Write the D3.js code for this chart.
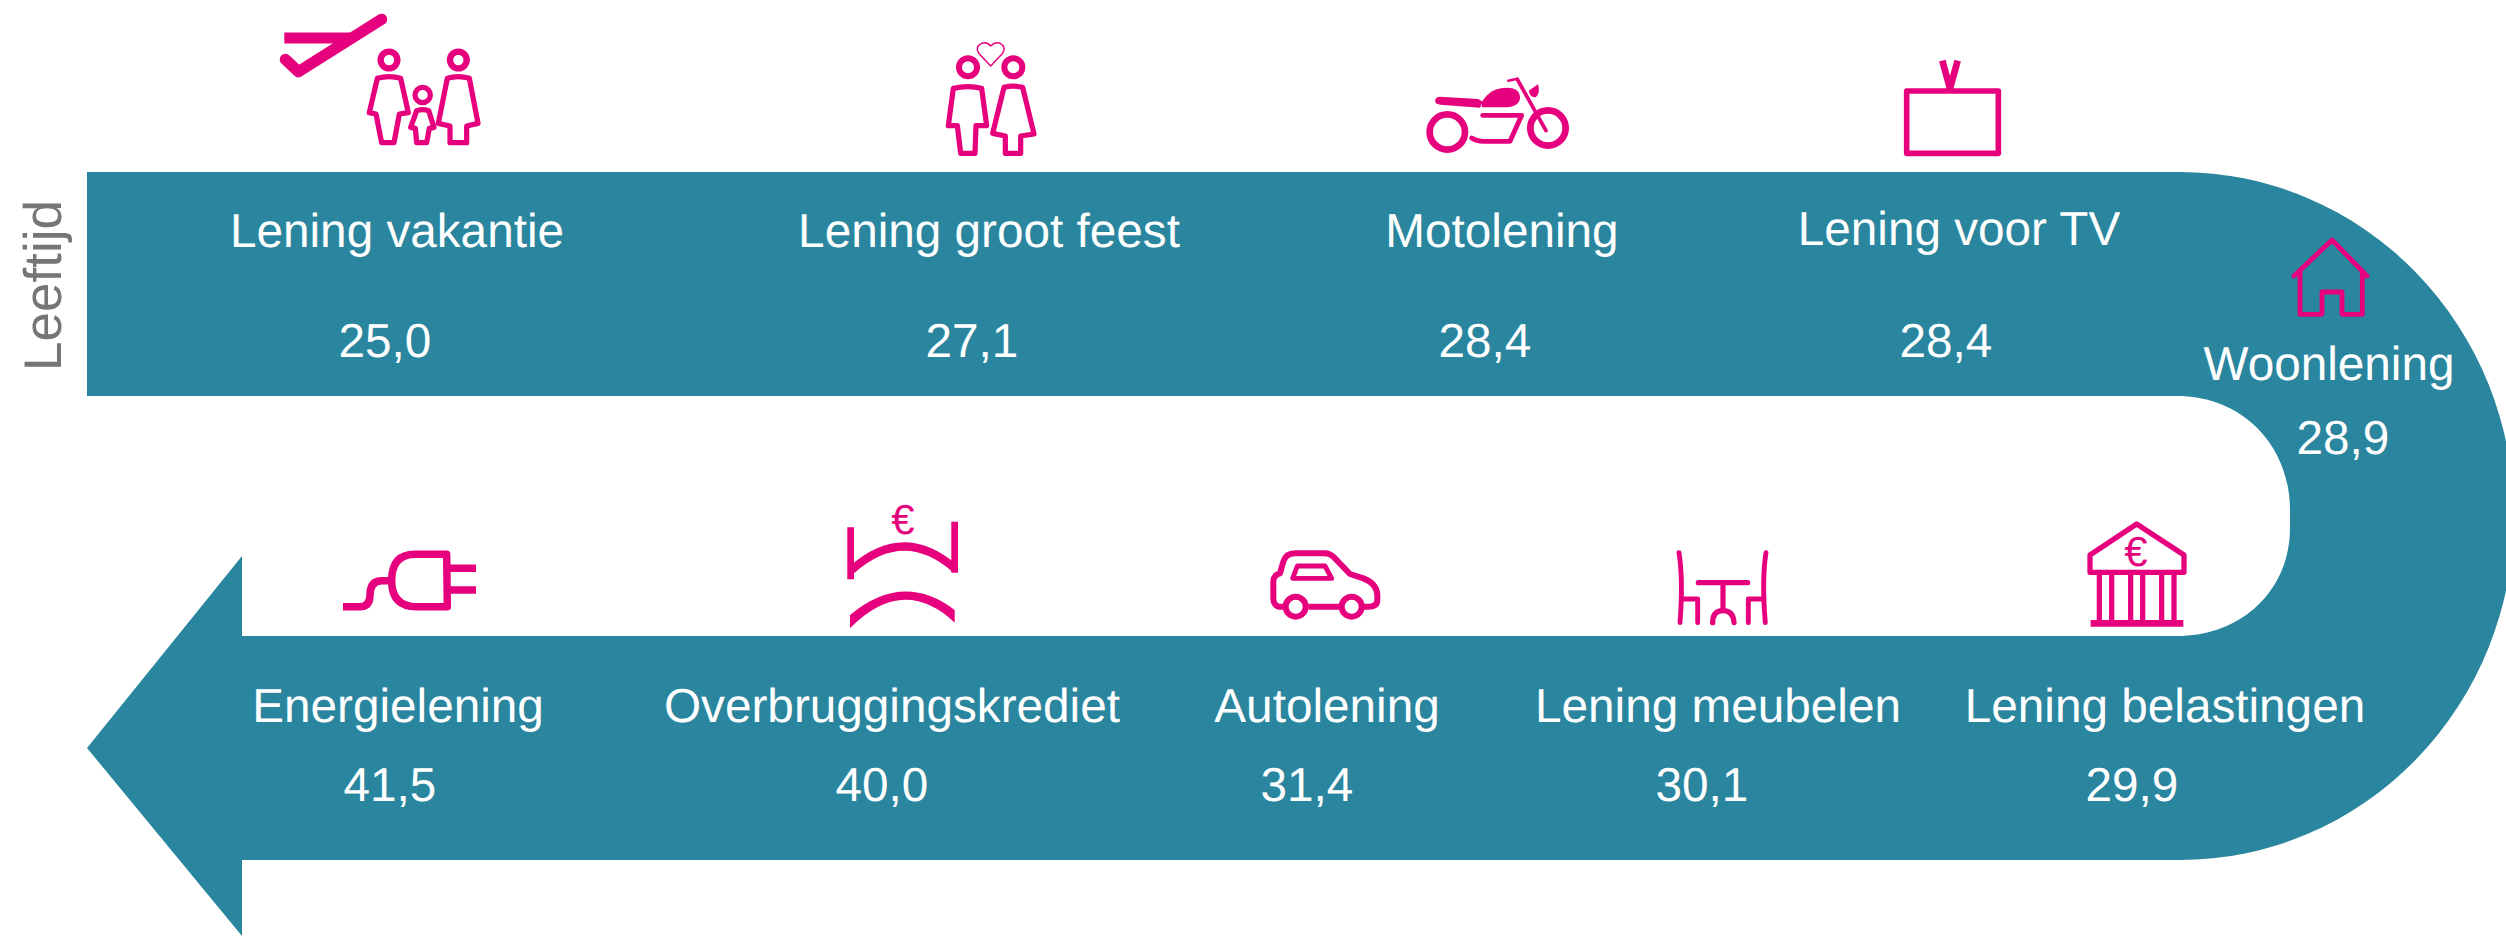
<!DOCTYPE html>
<html>
<head>
<meta charset="utf-8">
<script src="https://cdn.jsdelivr.net/npm/d3@7"></script>
<style>
  html, body { margin: 0; padding: 0; background: #fff; }
  svg { display: block; }
  text { font-family: "Liberation Sans", Arial, sans-serif; text-rendering: geometricPrecision; }
</style>
</head>
<body>
<div id="chart"></div>
<script>
// data, in the order of the ribbon
var loanNames = ["Lening vakantie", "Lening groot feest", "Motolening", "Lening voor TV", "Woonlening",
                 "Lening belastingen", "Lening meubelen", "Autolening", "Overbruggingskrediet", "Energielening"];
var loanAges = [25.0, 27.1, 28.4, 28.4, 28.9, 29.9, 30.1, 31.4, 40.0, 41.5];
var axisLabel = "Leeftijd";

var width = 2506, height = 936;
var teal = "#2a869f", pink = "#e6007e";

// where the labels sit along the ribbon
var nameX = [397, 989, 1502, 1959, 2329, 2165, 1718, 1327, 892, 398];
var valueX = [385, 972, 1485, 1946, 2343, 2132, 1702, 1307, 882, 390];
var nameY = [247, 247, 247, 245, 380, 722, 722, 722, 722, 722];
var valueY = [357, 357, 357, 357, 454, 801, 801, 801, 801, 801];

var nl = d3.formatLocale({decimal: ",", thousands: ".", grouping: [3], currency: ["€", ""]});
var fmt = nl.format(".1f");

var svg = d3.select("#chart").append("svg")
    .attr("width", width)
    .attr("height", height);

// ribbon with the arrow head
svg.append("path")
    .attr("fill", teal)
    .attr("d", "M87 172 L2180 172 A334 344 0 0 1 2180 860 L242 860 L242 936 L87 748 L242 556 L242 636 " +
               "L2177 636 C2242 636 2290 590 2290 528 L2290 510 C2290 445 2242 396 2177 396 L87 396 Z");

svg.append("text")
    .attr("transform", "translate(61,371) rotate(-90)")
    .attr("font-size", 53)
    .attr("fill", "#767676")
    .text(axisLabel);

svg.selectAll("text.name")
    .data(loanNames)
    .enter()
    .append("text")
    .attr("class", "name")
    .attr("x", function(d, i) { return nameX[i]; })
    .attr("y", function(d, i) { return nameY[i]; })
    .attr("text-anchor", "middle")
    .attr("font-size", 47.7)
    .attr("fill", "#fff")
    .text(function(d) { return d; });

svg.selectAll("text.age")
    .data(loanAges)
    .enter()
    .append("text")
    .attr("class", "age")
    .attr("x", function(d, i) { return valueX[i]; })
    .attr("y", function(d, i) { return valueY[i]; })
    .attr("text-anchor", "middle")
    .attr("font-size", 47.7)
    .attr("fill", "#fff")
    .text(function(d) { return fmt(d); });

// icons are traced at 3x, so each group is scaled down by a third
function icon(x, y) {
    return svg.append("g")
        .attr("transform", "translate(" + x + "," + y + ") scale(" + (1 / 3) + ")")
        .attr("fill", "none")
        .attr("stroke", pink)
        .attr("stroke-linejoin", "round");
}
function line(g, d, w, cap) {
    g.append("path").attr("d", d).attr("stroke-width", w * 1.12).attr("stroke-linecap", cap || "butt");
}
function solid(g, d) {
    g.append("path").attr("d", d).attr("fill", pink).attr("stroke", "none");
}
function ring(g, x, y, r, w) {
    g.append("circle").attr("cx", x).attr("cy", y).attr("r", r).attr("stroke-width", w * 1.12);
}
function euro(x, y, size) {
    svg.append("text")
        .attr("x", x).attr("y", y)
        .attr("text-anchor", "middle")
        .attr("font-size", size)
        .attr("fill", pink)
        .text("€");
}

// plane + family
var g = icon(240, 0);
line(g, "M425 58 L175 215 L136 178", 30, "round");
line(g, "M133 114 L340 114", 30);
ring(g, 447, 180, 25, 17);
line(g, "M412 235 Q447 225 482 235 L505 338 L478 342 L462 428 L425 428 L408 342 L388 338 Z", 14);
ring(g, 548, 285, 23, 14);
line(g, "M530 332 Q548 326 566 332 L582 382 L568 385 L560 428 L530 428 L526 385 L512 382 Z", 14);
ring(g, 655, 180, 25, 17);
line(g, "M622 235 Q655 225 688 235 L714 370 L680 378 L680 428 L630 428 L630 378 L595 370 Z", 14);

// couple
g = icon(900, 10);
line(g, "M272 168 L236 130 Q224 110 245 100 Q262 95 272 108 Q285 95 300 100 Q320 110 308 130 Z", 4);
ring(g, 204, 172, 27, 16);
ring(g, 340, 172, 27, 16);
line(g, "M160 235 Q204 225 245 235 L260 347 L228 347 L225 430 L182 430 L172 347 L145 347 Z", 14);
line(g, "M312 232 Q340 225 368 232 L402 372 L362 378 L362 430 L316 430 L316 378 L278 370 Z", 14);

// motorbike
g = icon(1400, 50);
ring(g, 142, 246, 53, 18);
ring(g, 444, 234, 53, 18);
solid(g, "M105 150 Q108 140 120 140 L235 147 L248 155 L240 173 L120 164 Q105 162 105 150 Z");
solid(g, "M246 156 Q270 113 320 113 Q357 113 360 140 Q362 167 320 172 L245 172 Z");
solid(g, "M386 122 L414 103 Q422 130 407 142 Q390 142 386 122 Z");
line(g, "M248 196 L365 196 L330 274 L250 274 Q230 274 215 264", 13, "round");
line(g, "M352 88 L438 242", 10, "round");
line(g, "M325 92 L352 86", 7, "round");

// tv
g = icon(1860, 40);
line(g, "M140 153 L415 153 L415 340 L140 340 Z", 15);
line(g, "M247 62 L270 145 L293 62", 18);

// house, on the ribbon
g = icon(2160, 160);
line(g, "M402 348 L516 240 L621 348 M420 336 L420 463 L486 463 L486 396 L546 396 L546 463 L607 463 L607 336", 13, "round");

// plug
g = icon(320, 510);
line(g, "M69 290 L120 290 Q150 290 150 255 Q150 212 185 212 L215 212", 20);
line(g, "M380 133 L285 133 Q215 133 215 212 Q215 290 290 290 L382 290 Z", 20);
line(g, "M385 175 L468 175 M385 240 L468 240", 20);

// bridge
g = icon(820, 500);
line(g, "M92 82 L92 238 M404 65 L404 218", 18);
line(g, "M95 210 Q250 72 404 205", 22);
solid(g, "M90 385 L90 345 Q250 212 404 330 L404 368 Q250 223 90 385 Z");
euro(903, 534, 42);

// car
g = icon(1250, 530);
line(g, "M105 230 L85 230 Q70 225 70 205 L70 155 Q70 135 90 130 L100 95 Q108 70 135 70 L225 70 Q240 70 255 85 L300 132 L340 145 Q380 160 382 195 L382 210 Q382 230 355 230 L335 230 M175 230 L270 230", 16);
ring(g, 137, 230, 30, 16);
ring(g, 305, 230, 30, 16);
line(g, "M142 108 L225 108 L245 145 L128 145 Z", 13);

// table and chairs
g = icon(1660, 530);
line(g, "M57 68 Q70 150 60 278 M65 207 L113 207 L113 278 M318 68 Q305 150 316 278 M310 207 L265 207 L265 278", 13, "round");
line(g, "M115 158 L263 158 M189 158 L189 240 M158 278 Q158 242 189 242 Q220 242 222 278", 14, "round");

// bank
g = icon(2070, 510);
line(g, "M60 187 L60 135 L200 42 L342 135 L342 187 Z", 14);
line(g, "M88 195 L88 335 M125 195 L125 335 M182 195 L182 335 M218 195 L218 335 M275 195 L275 335 M312 195 L312 335", 14);
line(g, "M62 340 L340 340", 18);
euro(2136, 566, 42);
</script>
</body>
</html>
